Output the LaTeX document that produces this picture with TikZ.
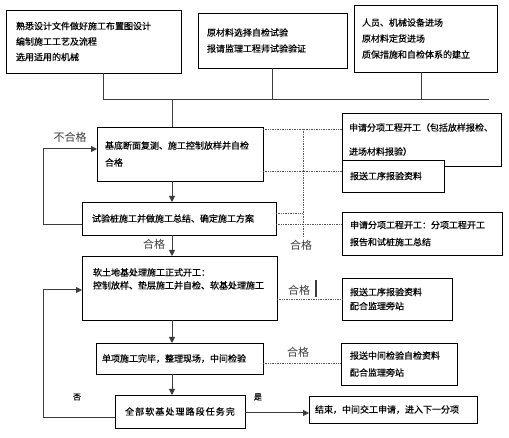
\documentclass[tikz,border=0pt]{standalone}
\usepackage{fontspec}
\setmainfont{Noto Sans CJK SC}
\newfontfamily\boxface[FakeBold=0.4]{Noto Sans CJK SC}
\usetikzlibrary{arrows.meta, positioning, calc}
\definecolor{flowLine}{HTML}{3C3C3C}
\definecolor{flowDot}{HTML}{555555}
\newcommand{\bxfont}{\boxface\fontsize{9pt}{11pt}\selectfont}
\newcommand{\lblfont}{\fontsize{11pt}{13pt}\selectfont}
\newcommand{\smlfont}{\boxface\fontsize{8pt}{10pt}\selectfont}

\begin{document}
\begin{tikzpicture}[
    x=1pt, y=-1pt,
    >={Triangle[length=6pt,width=6pt]},
    box/.style={
        draw=black,
        line width=0.8pt,
        fill=white,
        anchor=north west,
        outer sep=0pt,
        align=left,
        font=\bxfont,
        inner ysep=2pt,
        inner xsep=8pt
    },
    arrow/.style={->, line width=1pt, draw=flowLine},
    link/.style={line width=1pt, draw=flowLine},
    dotlink/.style={densely dotted, line width=0.7pt, draw=flowDot},
    tag/.style={font=\lblfont, text=flowLine, inner sep=0pt},
]

\fill[white] (0,0) rectangle (509,438);
\useasboundingbox (0,0) rectangle (509,438);

% preparation
\node[box, text width=155pt, inner xsep=10pt, minimum height=63pt] (plan) at (6,10)
    {熟悉设计文件做好施工布置图设计\\[4.5pt]编制施工工艺及流程\\[4.5pt]选用适用的机械};
\node[box, text width=131pt, inner xsep=9pt, minimum height=55pt] (material) at (198,13)
    {原材料选择自检试验\\[5pt]报请监理工程师试验验证};
\node[box, text width=127pt, minimum height=67pt] (staff) at (354,5)
    {人员、机械设备进场\\[5pt]原材料定货进场\\[5pt]质保措施和自检体系的建立};

% main flow
\node[box, text width=150pt, minimum height=54pt] (survey) at (97,127)
    {基底断面复测、施工控制放样并自检\\[6pt]合格};
\node[box, text width=174pt, inner xsep=10pt, minimum height=33pt] (trial) at (82,202)
    {试验桩施工并做施工总结、确定施工方案};
\node[box, text width=173pt, inner xsep=11pt, minimum height=64pt] (soft) at (82,256)
    {软土地基处理施工正式开工：\\[2pt]控制放样、垫层施工并自检、软基处理施工\\[8pt]\mbox{}};
\node[box, text width=155pt, inner xsep=6pt, minimum height=31pt] (single) at (96,343)
    {单项施工完毕，整理现场，中间检验};
\node[box, text width=114pt, minimum height=33pt, align=center] (whole) at (115,395)
    {\addfontfeatures{LetterSpace=12}全部软基处理路段任务完};
\node[box, text width=156pt, inner xsep=6pt, minimum height=27pt] (finish) at (309,396)
    {结束，中间交工申请，进入下一分项};

% reports
\node[box, text width=145pt, inner xsep=7pt, minimum height=53pt] (apply) at (342,113)
    {申请分项工程开工（包括放样报检、\\[13pt]进场材料报验）};
\node[box, text width=86pt, minimum height=32pt] (report) at (342,160)
    {报送工序报验资料};
\node[box, text width=144pt, minimum height=43pt] (applyB) at (342,212)
    {申请分项工程开工：分项工程开工\\[6pt]报告和试桩施工总结};
\node[box, text width=94pt, minimum height=42pt] (reportB) at (342,278)
    {报送工序报验资料\\[3pt]配合监理旁站};
\node[box, text width=98pt, inner xsep=9pt, minimum height=42pt] (reportC) at (341,343)
    {报送中间检验自检资料\\[6pt]配合监理旁站};

% top bus
\coordinate (busL) at (103,100);
\coordinate (busC) at (421,100);
\coordinate (busR) at (489,100);
\coordinate (spine) at (172,100);
\draw[link] (plan.south -| busL) -- (busL);
\draw[link] (material.south) -- (material.south |- busL);
\draw[link] (staff.south -| busC) -- (busC);
\draw[link] (busL) -- (busR);
\draw[link] (spine) -- (spine |- survey.north);

% spine arrows
\draw[arrow] (survey.south -| spine) -- (trial.north -| spine);
\draw[arrow] (trial.south -| spine) -- (soft.north -| spine);
\draw[arrow] (soft.south -| spine) -- (single.north -| spine);
\draw[arrow] (single.south -| spine) -- (whole.north -| spine);
\node[tag] (okA) at (154,244) {合格};

% feedback loops
\coordinate (loopA) at (43,225);
\coordinate (loopAtop) at (43,149);
\draw[arrow] (trial.west |- loopA) -- (loopA) -- (loopAtop) -- (survey.west |- loopAtop);
\node[tag] (notOk) at (70,137) {不合格};
\coordinate (loopB) at (43,417);
\coordinate (loopBtop) at (43,290);
\draw[arrow] (whole.west |- loopB) -- (loopB) -- (loopBtop) -- (soft.west |- loopBtop);
\node[tag, font=\smlfont, text=black] (no) at (77,397) {否};
\coordinate (yesY) at (260,413);
\draw[arrow] (whole.east |- yesY) -- (finish.west |- yesY);
\node[tag, font=\smlfont, text=black] (yes) at (258,397) {是};

% dotted report links
\coordinate (dotA) at (303,129);
\coordinate (dotB) at (303,171);
\coordinate (dotC) at (303,213);
\coordinate (dotD) at (303,224);
\coordinate (dotEnd) at (303,237);
\draw[dotlink] (survey.east |- dotA) -- (apply.west |- dotA);
\draw[dotlink] (survey.east |- dotB) -- (report.west |- dotB);
\draw[dotlink] (dotA) -- (dotEnd);
\draw[dotlink] (trial.east |- dotC) -- (dotC);
\draw[dotlink] (trial.east |- dotD) -- (applyB.west |- dotD);
\node[tag] (okB) at (301,245) {合格};

\coordinate (dotE) at (303,299);
\draw[dotlink] (soft.east |- dotE) -- (reportB.west |- dotE);
\node[tag] (okC) at (299,290) {合格};
\draw[line width=2pt, draw=flowLine] (316,280) -- (316,297);

\coordinate (dotF) at (303,363);
\draw[dotlink] (single.east |- dotF) -- (reportC.west |- dotF);
\node[tag] (okD) at (298,352) {合格};

\end{tikzpicture}
\end{document}
